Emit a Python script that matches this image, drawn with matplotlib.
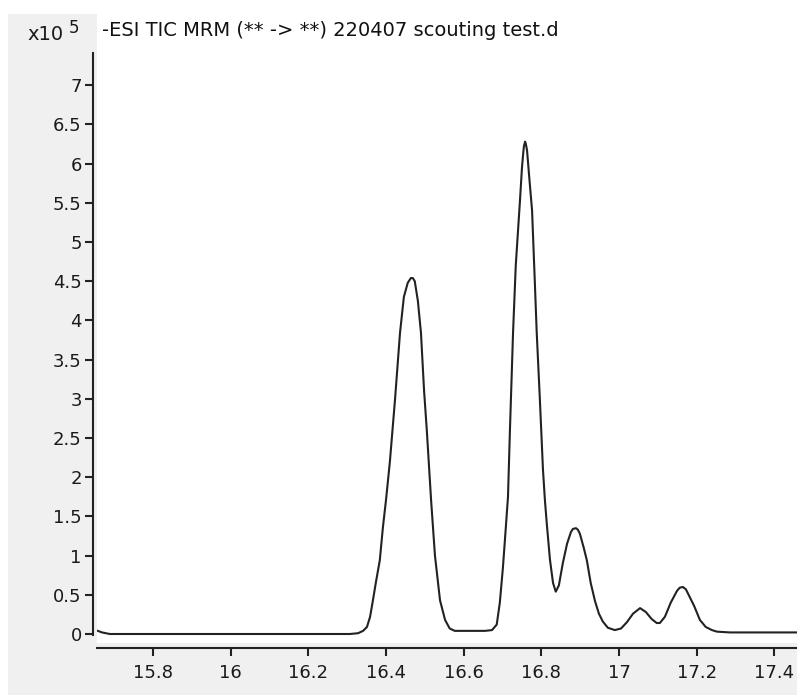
import matplotlib
matplotlib.use("Agg")
import matplotlib.pyplot as plt
from matplotlib.patches import Rectangle

matplotlib.rcParams['font.family'] = ['DejaVu Sans']

# ====== 数据 (保留时间 min, 强度 x10^5) ======
rt = [15.658, 15.669, 15.689, 16.307, 16.328, 16.341, 16.351, 16.359, 16.366, 16.374,
      16.384, 16.392, 16.400, 16.410, 16.423, 16.436, 16.446, 16.456, 16.464, 16.469,
      16.474, 16.482, 16.490, 16.498, 16.505, 16.516, 16.526, 16.539, 16.552, 16.564,
      16.577, 16.616, 16.655, 16.673, 16.685, 16.693, 16.701, 16.709, 16.714, 16.719,
      16.727, 16.734, 16.745, 16.750, 16.753, 16.755, 16.758, 16.760, 16.763, 16.765,
      16.770, 16.776, 16.783, 16.788, 16.796, 16.804, 16.809, 16.814, 16.822, 16.830,
      16.837, 16.845, 16.855, 16.866, 16.876, 16.881, 16.889, 16.894, 16.899, 16.909,
      16.917, 16.927, 16.938, 16.948, 16.958, 16.971, 16.989, 17.005, 17.020, 17.036,
      17.054, 17.069, 17.084, 17.097, 17.105, 17.118, 17.133, 17.149, 17.156, 17.164,
      17.172, 17.177, 17.193, 17.208, 17.223, 17.239, 17.252, 17.285, 17.458]
intensity = [0.04, 0.02, 0.00, 0.00, 0.01, 0.04, 0.09, 0.22, 0.42, 0.66,
             0.94, 1.36, 1.71, 2.20, 2.98, 3.84, 4.30, 4.48, 4.54, 4.54,
             4.50, 4.25, 3.84, 3.10, 2.60, 1.71, 1.00, 0.43, 0.18, 0.07,
             0.04, 0.04, 0.04, 0.05, 0.12, 0.40, 0.85, 1.40, 1.75, 2.60,
             3.84, 4.70, 5.54, 5.95, 6.12, 6.22, 6.28, 6.25, 6.17, 6.05,
             5.75, 5.40, 4.50, 3.84, 3.00, 2.10, 1.71, 1.40, 0.95, 0.65,
             0.54, 0.62, 0.90, 1.15, 1.30, 1.34, 1.35, 1.33, 1.28, 1.10,
             0.94, 0.65, 0.42, 0.26, 0.16, 0.08, 0.05, 0.07, 0.15, 0.26,
             0.33, 0.28, 0.19, 0.14, 0.14, 0.22, 0.40, 0.55, 0.59, 0.60,
             0.57, 0.52, 0.36, 0.18, 0.09, 0.05, 0.03, 0.02, 0.02]

x_ticks = [15.8, 16.0, 16.2, 16.4, 16.6, 16.8, 17.0, 17.2, 17.4]
x_labels = ['15.8', '16', '16.2', '16.4', '16.6', '16.8', '17', '17.2', '17.4']
y_ticks = [0, 0.5, 1, 1.5, 2, 2.5, 3, 3.5, 4, 4.5, 5, 5.5, 6, 6.5, 7]
y_labels = ['0', '0.5', '1', '1.5', '2', '2.5', '3', '3.5', '4', '4.5',
            '5', '5.5', '6', '6.5', '7']
title = "-ESI TIC MRM (** -> **) 220407 scouting test.d"

W, H = 797, 695
fig = plt.figure(figsize=(W / 100, H / 100), dpi=100, facecolor='white')
# 窗口灰色背景
fig.patches.append(Rectangle((8 / W, 0), 1 - 8 / W, (H - 14) / H,
                             transform=fig.transFigure, facecolor='#f0f0f0',
                             edgecolor='none', zorder=-10))

ax = fig.add_axes([97 / W, 1 - 643 / H, 1 - 97 / W, (643 - 14) / H])
ax.set_facecolor('white')
ax.plot(rt, intensity, color='#222222', linewidth=1.5, solid_joinstyle='round')

ax.set_xlim(15.656, 17.458)
ax.set_ylim(-0.1148, 7.908)

ax.spines['top'].set_visible(False)
ax.spines['right'].set_visible(False)
ax.spines['left'].set_position(('outward', 3))
ax.spines['bottom'].set_position(('outward', 3.6))
ax.spines['left'].set_bounds(-0.015, 7.41)
for s in ('left', 'bottom'):
    ax.spines[s].set_linewidth(1.5)
    ax.spines[s].set_color('#222222')

ax.set_xticks(x_ticks)
ax.set_xticklabels(x_labels)
ax.set_yticks(y_ticks)
ax.set_yticklabels(y_labels)
ax.tick_params(axis='x', direction='out', length=5.5, width=1.5, color='#222222',
               pad=6, labelsize=13, labelcolor='#1a1a1a')
ax.tick_params(axis='y', direction='out', length=5.5, width=1.5, color='#222222',
               pad=2.5, labelsize=13, labelcolor='#1a1a1a')

# 标题与量级
fig.text(102 / W, 1 - 31 / H, title, fontsize=14, color='#111111',
         ha='left', va='center')
fig.text(27 / W, 1 - 40 / H, 'x10', fontsize=14, color='#1a1a1a',
         ha='left', va='baseline')
fig.text(69 / W, 1 - 33 / H, '5', fontsize=12, color='#1a1a1a',
         ha='left', va='baseline')

fig.savefig('out.png', dpi=100, facecolor=fig.get_facecolor())
